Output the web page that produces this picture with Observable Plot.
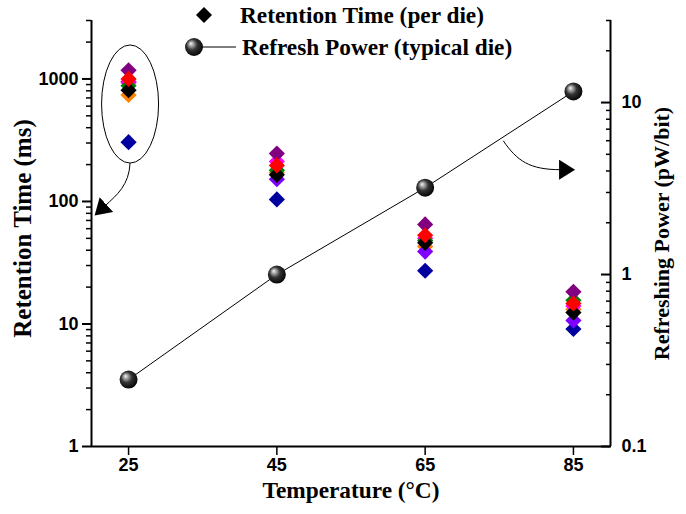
<!DOCTYPE html>
<html><head><meta charset="utf-8">
<script src="https://cdn.jsdelivr.net/npm/d3@7"></script>
<script src="https://cdn.jsdelivr.net/npm/@observablehq/plot@0.6"></script>
<style>
body{margin:0;background:#fff;}
#wrap{position:relative;width:686px;height:514px;overflow:hidden;}
#wrap svg{position:absolute;left:0;top:0;}
</style></head><body><div id="wrap"></div>
<script>
// ---- data ----
const temps = [25, 45, 65, 85];
const retBlue    = [305, 104, 27.2, 9.1];
const retOrange  = [740, 172, 43, 13.2];
const retViolet  = [950, 152, 39, 10.7];
const retMagenta = [930, 212, 50, 14.0];
const retGreen   = [880, 180, 48, 15.6];
const retBlack   = [810, 165, 46, 12.4];
const retPurple  = [1175, 246, 65, 18.3];
const retRed     = [1000, 197, 53, 14.7];
const dieSeries = [retBlue, retOrange, retViolet, retMagenta, retGreen, retBlack, retPurple, retRed];
const dieColors = ["#0000a0", "#ff8000", "#8000ff", "#ff00ff", "#008000", "#000000", "#800080", "#ff0000"];
const refreshPower = [0.245, 1.0, 3.2, 11.6];
const leftMajor = [1, 10, 100, 1000];
const rightMajor = [0.1, 1, 10];
const xTitle = "Temperature (°C)";
const yLeftTitle = "Retention Time (ms)";
const yRightTitle = "Refreshing Power (pW/bit)";
const legendLabels = ["Retention Time (per die)", "Refresh Power (typical die)"];

// build tables
const dieRows = [];
dieSeries.forEach((s, i) => s.forEach((v, j) => dieRows.push({t: temps[j], v, c: dieColors[i]})));
const powerRows = refreshPower.map((p, j) => ({t: temps[j], p}));
const minorOf = (lo, hi) => { const out = []; for (let d = lo; d < hi; d *= 10) for (let k = 2; k <= 9; k++) out.push(+(d * k).toPrecision(6)); return out; };
const leftMinor = minorOf(1, 1000).concat([2000, 3000]);
const rightMinor = minorOf(0.1, 10).concat([20, 30]);

const W = 686, H = 514;
const M = {marginTop: 20, marginRight: 76, marginBottom: 68, marginLeft: 91};
const xDom = [20, 90];
const sans = "Liberation Sans", serif = "Liberation Serif";

const plot1 = Plot.plot({
  width: W, height: H, ...M,
  style: {fontFamily: sans, fontWeight: "bold", background: "transparent"},
  x: {domain: xDom, axis: null},
  y: {type: "log", domain: [1, 3000], axis: null},
  color: {type: "identity"},
  marks: [
    Plot.ruleX([xDom[0]], {strokeWidth: 2}),
    Plot.ruleY([1], {strokeWidth: 2}),
    Plot.axisX(temps, {anchor: "bottom", tickSize: 9, tickPadding: 3, strokeWidth: 1.5, fontSize: 18, fontWeight: "bold", label: null}),
    Plot.axisY(leftMajor, {anchor: "left", tickSize: 9, tickPadding: 4, strokeWidth: 2, fontSize: 18, fontWeight: "bold", tickFormat: d => String(d), label: null}),
    Plot.axisY(leftMinor, {anchor: "left", tickSize: 5, strokeWidth: 1.5, tickFormat: () => "", label: null}),
    Plot.dot(dieRows, {x: "t", y: "v", fill: "c", symbol: "diamond2", r: 7.3}),
    Plot.text([yLeftTitle], {frameAnchor: "left", dx: -69, dy: -5, rotate: -90, textAnchor: "middle", fontFamily: serif, fontSize: 25, fontWeight: "bold"}),
    Plot.text([xTitle], {frameAnchor: "bottom", dy: 51, textAnchor: "middle", fontFamily: serif, fontSize: 23.3, fontWeight: "bold"})
  ]
});

const plot2 = Plot.plot({
  width: W, height: H, ...M,
  style: {fontFamily: sans, fontWeight: "bold", background: "transparent"},
  x: {domain: xDom, axis: null},
  y: {type: "log", domain: [0.1, 30], axis: null},
  marks: [
    Plot.ruleX([xDom[1]], {strokeWidth: 2}),
    Plot.axisY(rightMajor, {anchor: "right", tickSize: -10, strokeWidth: 2, tickFormat: () => "", label: null}),
    Plot.axisY(rightMinor, {anchor: "right", tickSize: -5, strokeWidth: 1.5, tickFormat: () => "", label: null}),
    Plot.axisY(rightMajor, {anchor: "right", tickSize: 0, tickPadding: 11, fontSize: 18, fontWeight: "bold", tickFormat: d => String(d), label: null}),
    Plot.line(powerRows, {x: "t", y: "p", stroke: "black", strokeWidth: 1}),
    Plot.dot(powerRows, {x: "t", y: "p", r: 9, fill: "url(#sphereGrad)", stroke: "none"}),
    Plot.text([yRightTitle], {frameAnchor: "right", dx: 51, rotate: -90, textAnchor: "middle", fontFamily: serif, fontSize: 22, fontWeight: "bold"})
  ]
});

const wrap = document.getElementById("wrap");
wrap.appendChild(plot1);
wrap.appendChild(plot2);

// defs: sphere gradient and arrowhead
const s2 = d3.select(plot2);
const defs2 = s2.insert("defs", ":first-child");
const grad = defs2.append("radialGradient").attr("id", "sphereGrad")
  .attr("cx", "0.45").attr("cy", "0.45").attr("r", "0.6").attr("fx", "0.32").attr("fy", "0.3");
[["0", "#f4f4f4"], ["0.18", "#b0b0b0"], ["0.5", "#333"], ["1", "#000"]]
  .forEach(([o, c]) => grad.append("stop").attr("offset", o).attr("stop-color", c));
const s1 = d3.select(plot1);
const defs1 = s1.insert("defs", ":first-child");
defs1.append("marker").attr("id", "arrowHead").attr("markerUnits", "userSpaceOnUse")
  .attr("markerWidth", 20).attr("markerHeight", 20).attr("refX", 2).attr("refY", 5)
  .attr("orient", "auto").attr("viewBox", "0 0 20 10").attr("preserveAspectRatio", "none")
  .append("path").attr("d", "M0,0 L16,5 L0,10 Z").attr("fill", "black");

// annotations positioned through the chart scales
const sx = plot1.scale("x"), sy = plot1.scale("y");
const xs = v => sx.apply(v), ys = v => sy.apply(v);
const eCx = xs(25) + 2, eTop = ys(1876), eBot = ys(204);
const ann = s1.append("g").attr("fill", "none").attr("stroke", "black").attr("stroke-width", 1);
ann.append("ellipse").attr("cx", eCx).attr("cy", (eTop + eBot) / 2).attr("rx", 28.5).attr("ry", (eBot - eTop) / 2);
const tip1 = [xs(20.8), ys(100) + 12];
ann.append("path").attr("d", `M${eCx},${eBot} C${eCx - 1},${eBot + 22} ${tip1[0] + 20},${tip1[1] - 18} ${tip1[0] + 8},${tip1[1] - 7}`)
  .attr("marker-end", "url(#arrowHead)");
const a2s = [xs(75.6), ys(310)], a2e = [xs(83.4), ys(180)];
ann.append("path").attr("d", `M${a2s[0]},${a2s[1]} C${a2s[0] + 14},${a2s[1] + 20} ${a2e[0] - 32},${a2e[1]} ${a2e[0]},${a2e[1]}`)
  .attr("marker-end", "url(#arrowHead)");

// legend
const lg = s2.append("g").attr("font-family", serif).attr("font-weight", "bold").attr("font-size", 23.3).attr("text-anchor", "start");
lg.append("path").attr("d", "M204,7 L212,15 L204,23 L196,15 Z").attr("fill", "black");
lg.append("text").attr("x", 240).attr("y", 15).attr("dy", "0.35em").text(legendLabels[0]);
lg.append("line").attr("x1", 194).attr("x2", 236).attr("y1", 47).attr("y2", 47).attr("stroke", "black").attr("stroke-width", 1);
lg.append("circle").attr("cx", 194).attr("cy", 47).attr("r", 9).attr("fill", "url(#sphereGrad)");
lg.append("text").attr("x", 242).attr("y", 47).attr("dy", "0.35em").text(legendLabels[1]);
</script>
</body></html>
